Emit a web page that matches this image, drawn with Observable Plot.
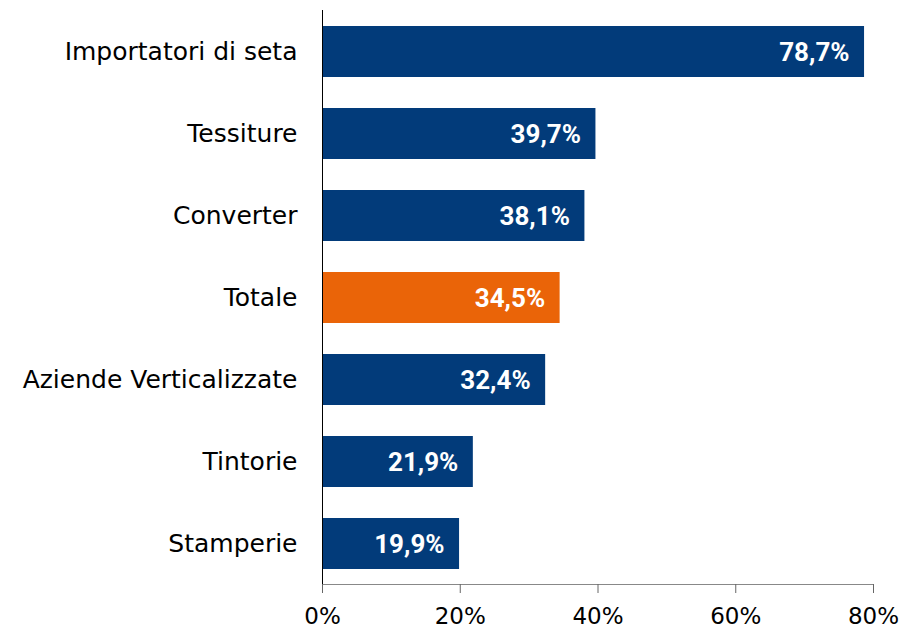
<!DOCTYPE html>
<html><head><meta charset="utf-8">
<script src="https://cdn.jsdelivr.net/npm/d3@7"></script>
<script src="https://cdn.jsdelivr.net/npm/@observablehq/plot@0.6"></script>
<style>body{margin:0;background:#fff}</style>
</head><body><div id="chart"></div>
<script>
const categories = ["Importatori di seta","Tessiture","Converter","Totale","Aziende Verticalizzate","Tintorie","Stamperie"];
const values = [78.7, 39.7, 38.1, 34.5, 32.4, 21.9, 19.9];
const highlight = "Totale";
const xTicks = [0, 20, 40, 60, 80];
const data = categories.map((c, i) => ({cat: c, v: values[i]}));
const font = "'DejaVu Sans', sans-serif";
const chart = Plot.plot({
  width: 902, height: 631,
  marginLeft: 322, marginRight: 29, marginTop: 10, marginBottom: 47,
  style: {fontFamily: font, background: "#fff"},
  x: {domain: [0, 80]},
  y: {domain: categories, paddingInner: 0.38, paddingOuter: 0.19},
  marks: [
    Plot.barX(data, {x: "v", y: "cat", fill: d => d.cat === highlight ? "#ea6408" : "#023b7a", insetLeft: 1}),
    Plot.text(data, {x: "v", y: "cat", text: d => d.v.toFixed(1).replace(".", ",") + "%", textAnchor: "end", dx: -15, dy: 1, fill: "#fff", fontWeight: "bold", fontSize: 26, fontFamily: "Roboto, sans-serif"}),
    Plot.frame({anchor: "bottom", stroke: "#888"}),
    Plot.ruleX([0], {stroke: "#000"}),
    Plot.axisX({ticks: xTicks, tickFormat: d => d + "%", tickSize: 9, stroke: "#666", fill: "#000", fontSize: 23, tickPadding: 14, label: null}),
    Plot.axisY({tickSize: 0, tickPadding: 25, fill: "#000", fontSize: 25, label: null})
  ]
});
document.getElementById("chart").appendChild(chart);
</script></body></html>
